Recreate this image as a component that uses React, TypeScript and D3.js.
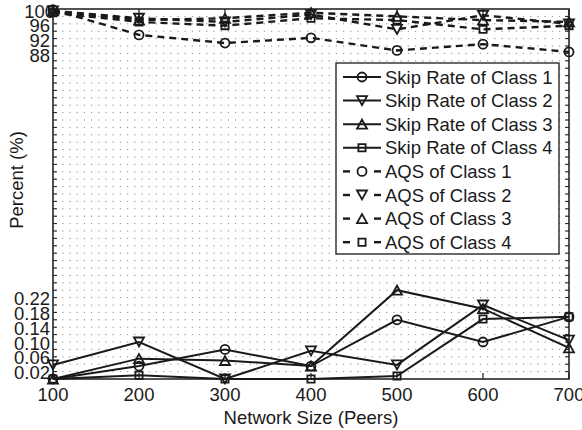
import React from 'react';
import * as d3 from 'd3';

const sizes = [100, 200, 300, 400, 500, 600, 700];

// skip rates (plotted as-is on the 0..1 axis)
const skip1 = [0, 0.035, 0.08, 0.035, 0.16, 0.1, 0.168];
const skip2 = [0.038, 0.1, 0, 0.076, 0.038, 0.2, 0.105];
const skip3 = [0, 0.055, 0.05, 0.035, 0.24, 0.19, 0.084];
const skip4 = [0, 0.01, 0, 0, 0.008, 0.162, 0.168];

// AQS in percent (plotted as fraction on the same axis)
const aqs1 = [99.8, 93, 90.8, 92.2, 88.8, 90.5, 88.4];
const aqs2 = [99.5, 97.5, 96.5, 98.5, 94.5, 98.3, 96];
const aqs3 = [99.5, 97, 97.5, 99, 98, 97, 96.5];
const aqs4 = [99, 96.5, 95.5, 97.5, 97, 94.5, 95.5];

const yTicksLow = [0.02, 0.06, 0.1, 0.14, 0.18, 0.22];
const yTicksHigh = [88, 92, 96, 100];

const W = 582;
const H = 430;
const left = 53, right = 569, top = 9, bottom = 379;
const ink = '#1a1a1a';
const fs = 18.5;

type Mark = 'circle' | 'down' | 'up' | 'square';

const markerPath = (m: Mark): string => {
  switch (m) {
    case 'down': return 'M-5,-4.5L5,-4.5L0,4.5Z';
    case 'up': return 'M-5,4.5L5,4.5L0,-4.5Z';
    case 'square': return 'M-3.6,-3.6H3.6V3.6H-3.6Z';
    default: return '';
  }
};

const Marker: React.FC<{ m: Mark; x: number; y: number }> = ({ m, x, y }) =>
  m === 'circle'
    ? <circle cx={x} cy={y} r={4.5} fill="none" stroke={ink} strokeWidth={1.8} />
    : <path d={markerPath(m)} transform={`translate(${x},${y})`} fill="none" stroke={ink} strokeWidth={1.8} />;

const series = [
  { name: 'Skip Rate of Class 1', vals: skip1, m: 'circle' as Mark, dash: false },
  { name: 'Skip Rate of Class 2', vals: skip2, m: 'down' as Mark, dash: false },
  { name: 'Skip Rate of Class 3', vals: skip3, m: 'up' as Mark, dash: false },
  { name: 'Skip Rate of Class 4', vals: skip4, m: 'square' as Mark, dash: false },
  { name: 'AQS of Class 1', vals: aqs1.map(v => v / 100), m: 'circle' as Mark, dash: true },
  { name: 'AQS of Class 2', vals: aqs2.map(v => v / 100), m: 'down' as Mark, dash: true },
  { name: 'AQS of Class 3', vals: aqs3.map(v => v / 100), m: 'up' as Mark, dash: true },
  { name: 'AQS of Class 4', vals: aqs4.map(v => v / 100), m: 'square' as Mark, dash: true },
];

export default function App() {
  const x = d3.scaleLinear().domain([100, 700]).range([left, right]);
  const y = d3.scaleLinear().domain([0, 1]).range([bottom, top]);
  const line = d3.line<number>().x((_, i) => x(sizes[i])).y(d => y(d));

  const minor = d3.range(1, 50).map(i => i * 0.02);

  const legX = 336, legY = 63, legW = 223, legH = 191;

  return (
    <div style={{ position: 'absolute', left: 0, top: 0 }}>
      <svg width={W} height={H} style={{ display: 'block', background: '#fff', fontFamily: 'Liberation Sans, Arial, sans-serif' }}>
        {/* dotted grid */}
        {minor.map(v => (
          <line key={'g' + v} x1={left + 2} x2={right} y1={y(v)} y2={y(v)}
            stroke="#8a8a8a" strokeWidth={1} strokeDasharray="1.2 6" />
        ))}

        {/* frame */}
        <rect x={left} y={top} width={right - left} height={bottom - top} fill="none" stroke={ink} strokeWidth={1.5} />

        {/* minor ticks left/right */}
        {minor.map(v => (
          <g key={'t' + v}>
            <line x1={left} x2={left + 4} y1={y(v)} y2={y(v)} stroke={ink} strokeWidth={1} />
            <line x1={right} x2={right - 4} y1={y(v)} y2={y(v)} stroke={ink} strokeWidth={1} />
          </g>
        ))}

        {/* x ticks */}
        {sizes.map(s => (
          <g key={'x' + s}>
            <line x1={x(s)} x2={x(s)} y1={bottom} y2={bottom - 6} stroke={ink} strokeWidth={1.2} />
            <line x1={x(s)} x2={x(s)} y1={top} y2={top + 6} stroke={ink} strokeWidth={1.2} />
            <text x={x(s)} y={401} textAnchor="middle" fontSize={fs} fill={ink}>{s}</text>
          </g>
        ))}

        {/* y tick labels */}
        {yTicksLow.map(v => (
          <text key={'yl' + v} x={50} y={y(v) + 1} textAnchor="end" dominantBaseline="central" fontSize={fs} fill={ink}>
            {v.toFixed(2)}
          </text>
        ))}
        {yTicksHigh.map(v => (
          <text key={'yh' + v} x={v === 100 ? 55 : 50} y={y(v / 100) + 2} textAnchor="end" dominantBaseline="central" fontSize={fs} fill={ink}>
            {v}
          </text>
        ))}

        {/* axis titles */}
        <text x={311} y={424} textAnchor="middle" fontSize={fs} fill={ink}>Network Size (Peers)</text>
        <text transform="translate(23,180) rotate(-90)" textAnchor="middle" fontSize={fs} fill={ink}>Percent (%)</text>

        {/* series */}
        {series.map(s => (
          <g key={s.name}>
            <path d={line(s.vals) || ''} fill="none" stroke={ink}
              strokeWidth={s.dash ? 2.4 : 2} strokeDasharray={s.dash ? '7 5' : undefined} />
            {s.vals.map((v, i) => <Marker key={i} m={s.m} x={x(sizes[i])} y={y(v)} />)}
          </g>
        ))}

        {/* legend */}
        <rect x={legX} y={legY} width={legW} height={legH} fill="#fff" stroke={ink} strokeWidth={1.3} />
        {series.map((s, i) => {
          const ly = 77 + i * 23.6;
          return (
            <g key={'l' + s.name}>
              {s.dash ? (
                <>
                  <line x1={343} x2={350} y1={ly} y2={ly} stroke={ink} strokeWidth={2.4} />
                  <line x1={374} x2={381} y1={ly} y2={ly} stroke={ink} strokeWidth={2.4} />
                </>
              ) : (
                <line x1={343} x2={381} y1={ly} y2={ly} stroke={ink} strokeWidth={2} />
              )}
              <Marker m={s.m} x={362} y={ly} />
              <text x={385} y={ly} dominantBaseline="central" fontSize={fs} fill={ink}>{s.name}</text>
            </g>
          );
        })}
      </svg>
    </div>
  );
}
